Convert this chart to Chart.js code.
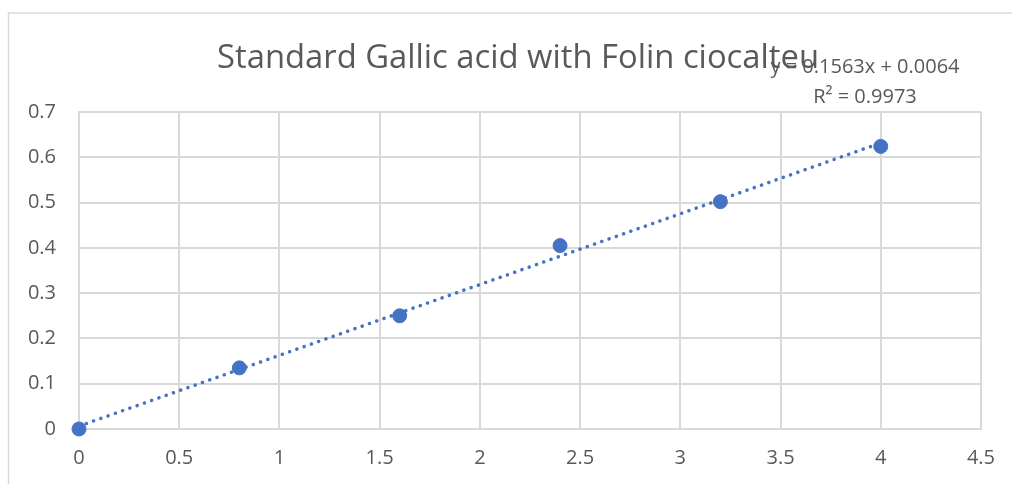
<!DOCTYPE html>
<html>
<head>
<meta charset="utf-8">
<script src="https://cdn.jsdelivr.net/npm/chart.js@4"></script>
<style>
  html, body { margin: 0; padding: 0; background: #fff; }
  #wrap { width: 1012px; height: 484px; }
</style>
</head>
<body>
<div id="wrap"><canvas id="chart"></canvas></div>
<script>
// gallic acid standard curve
const concentrations = [0, 0.8, 1.6, 2.4, 3.2, 4];
const absorbance = [0, 0.135, 0.25, 0.405, 0.502, 0.624];
const xTicks = [0, 0.5, 1, 1.5, 2, 2.5, 3, 3.5, 4, 4.5];
const yTicks = [0, 0.1, 0.2, 0.3, 0.4, 0.5, 0.6, 0.7];
const slope = 0.1563;
const intercept = 0.0064;
const rSquared = 0.9973;
const chartTitle = 'Standard Gallic acid with Folin ciocalteu';

const trendX = [concentrations[0], concentrations[concentrations.length - 1]];
const trendPoints = trendX.map(x => ({ x: x, y: slope * x + intercept }));
const points = concentrations.map((x, i) => ({ x: x, y: absorbance[i] }));

const textColor = '#595959';
const gridColor = '#d9d9d9';
const blue = '#4472C4';

const frame = {
  id: 'frame',
  beforeDraw(chart) {
    const ctx = chart.ctx;
    ctx.save();
    ctx.fillStyle = '#fff';
    ctx.fillRect(0, 0, chart.width, chart.height);
    ctx.strokeStyle = gridColor;
    ctx.lineWidth = 1.5;
    ctx.strokeRect(8.5, 13, chart.width + 20, chart.height + 20);
    ctx.restore();
  },
  afterDraw(chart) {
    const ctx = chart.ctx;
    ctx.save();
    ctx.fillStyle = textColor;
    ctx.textAlign = 'center';
    ctx.textBaseline = 'alphabetic';
    ctx.font = '33px "Open Sans", sans-serif';
    ctx.fillText(chartTitle, 518, 68, 602);
    ctx.font = '20px "Open Sans", sans-serif';
    ctx.fillText('y = ' + slope + 'x + ' + intercept, 865, 73, 200);
    ctx.fillText('R\u00b2 = ' + rSquared, 865, 103);
    ctx.restore();
  }
};

new Chart(document.getElementById('chart'), {
  type: 'scatter',
  data: {
    datasets: [
      {
        label: 'Absorbance',
        data: points,
        backgroundColor: blue,
        borderColor: blue,
        pointRadius: 7,
        pointHoverRadius: 7,
        clip: false,
        order: 1
      },
      {
        label: 'Linear trend',
        data: trendPoints,
        showLine: true,
        borderColor: blue,
        borderWidth: 3.5,
        borderDash: [0.1, 7.6],
        borderCapStyle: 'round',
        pointRadius: 0,
        fill: false,
        clip: false,
        order: 2
      }
    ]
  },
  plugins: [frame],
  options: {
    responsive: true,
    maintainAspectRatio: false,
    animation: false,
    layout: { padding: { top: 112, right: 27, bottom: 0, left: 0 } },
    plugins: {
      legend: { display: false },
      title: { display: false },
      tooltip: { enabled: false }
    },
    scales: {
      x: {
        type: 'linear',
        min: 0,
        max: 4.5,
        afterBuildTicks: axis => { axis.ticks = xTicks.map(v => ({ value: v })); },
        afterFit: axis => { axis.height = 55; },
        grid: { color: gridColor, lineWidth: 2, drawTicks: false },
        border: { color: gridColor, width: 2 },
        ticks: {
          color: textColor,
          font: { family: 'Open Sans', size: 20 },
          padding: 17,
          maxRotation: 0,
          callback: v => String(v)
        }
      },
      y: {
        type: 'linear',
        min: 0,
        max: 0.7,
        afterBuildTicks: axis => { axis.ticks = yTicks.map(v => ({ value: v })); },
        afterFit: axis => { axis.width = 79; },
        grid: { color: gridColor, lineWidth: 2, drawTicks: false },
        border: { color: gridColor, width: 2 },
        ticks: {
          color: textColor,
          font: { family: 'Open Sans', size: 20 },
          padding: 23,
          callback: v => String(v)
        }
      }
    }
  }
});
</script>
</body>
</html>
